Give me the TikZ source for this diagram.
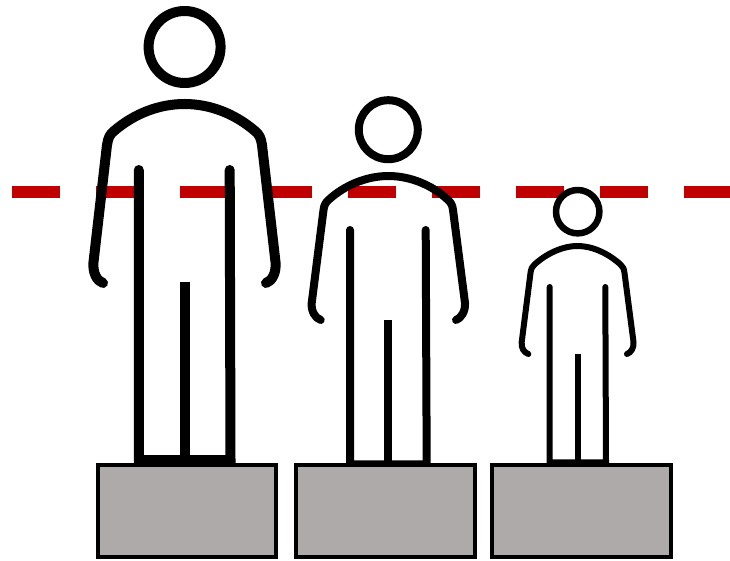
\documentclass[tikz,border=0pt]{standalone}
\usepackage{tikz}
\usepackage{xcolor}
\definecolor{blockgray}{HTML}{AEAAA9}
\definecolor{levelred}{HTML}{C00000}
\tikzset{
  block/.style={draw=black,line width=4pt,fill=blockgray},
  levelline/.style={levelred,line width=12.5pt,dash pattern=on 48pt off 36pt},
  outline/.style={draw=black,line cap=round,line join=round},
  legline/.style={draw=black,line cap=round,line join=miter},
  crotch/.style={draw=black,line cap=butt},
}
\begin{document}
\begin{tikzpicture}[x=1pt,y=-1pt]
\useasboundingbox (0,0) rectangle (730,561);
\draw[levelline] (12,192) -- (730,192);
% tall figure
\draw[outline,line width=10pt] (184.6,47) circle (36);
\draw[outline,line width=10pt] (103,283) .. controls (97,281) and (92.5,273) .. (93.5,262) -- (107,145) .. controls (108,138) and (110,134) .. (114,131) .. controls (135,113) and (160,104) .. (184.6,104) .. controls (209,104) and (234,113) .. (255,131) .. controls (259,134) and (261,138) .. (262,145) -- (275.5,262) .. controls (276.5,273) and (272,281) .. (266,283);
\draw[legline,line width=10pt] (138.8,170) -- (138.8,460) -- (230.5,460) -- (229.7,170);
\draw[crotch,line width=10pt] (184.6,282) -- (184.6,460);
% middle figure
\draw[outline,line width=8pt] (388.3,129.7) circle (29.5);
\draw[outline,line width=8pt] (320.7,320) .. controls (315,318) and (311,311) .. (311.7,303) -- (323.5,210) .. controls (324,205) and (326,202) .. (329,199.5) .. controls (345,185) and (367,176) .. (388.3,176) .. controls (410,176) and (432,185) .. (447.5,199.5) .. controls (450.5,202) and (452.5,205) .. (453,210) -- (465,303) .. controls (465.5,311) and (461.5,318) .. (456,320);
\draw[legline,line width=8pt] (350,230) -- (350,464.3) -- (426.7,464.3) -- (425.7,230);
\draw[crotch,line width=8pt] (388.3,320) -- (388.3,462);
% small figure
\draw[outline,line width=6.5pt] (577.7,211.7) circle (21.7);
\draw[outline,line width=6pt] (528.3,354) .. controls (524,352.5) and (521,348) .. (521.7,342) -- (530.5,273) .. controls (531,269) and (532,266.5) .. (534.5,264.5) .. controls (546,254) and (562,246) .. (577.7,246) .. controls (593,246) and (609,254) .. (620.5,264.5) .. controls (623,266.5) and (624,269) .. (624.5,273) -- (633.5,342) .. controls (634,348) and (631,352.5) .. (627,354);
\draw[legline,line width=6pt] (549.7,287) -- (549.7,462.3) -- (606,462.3) -- (605.3,287);
\draw[crotch,line width=6pt] (578,354) -- (578,462);
% blocks
\draw[block] (97.5,465) rectangle (276,557);
\draw[block] (296,465) rectangle (475,557);
\draw[block] (491.7,465) rectangle (670.7,557);
\end{tikzpicture}
\end{document}
